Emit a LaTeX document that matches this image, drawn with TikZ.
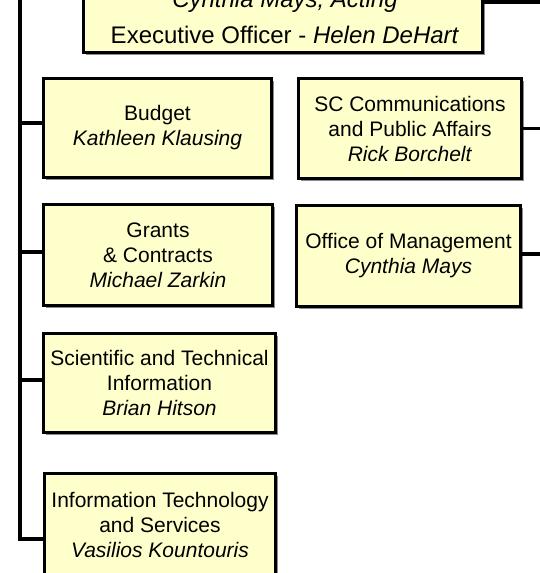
\documentclass[tikz,border=0pt]{standalone}
\usepackage{fontspec}
\setmainfont{Liberation Sans}
\usetikzlibrary{shadows}
\definecolor{boxfill}{RGB}{255,255,204}

\tikzset{
  unitbox/.style={draw, line width=3pt, fill=boxfill, align=center, inner sep=0pt,
    font=\fontsize{21}{25}\selectfont,
    drop shadow={shadow xshift=2pt, shadow yshift=-2pt, fill=black!45, opacity=1}},
  wire/.style={line width=3.2pt}
}

\begin{document}
\begin{tikzpicture}[x=1pt, y=-1pt]
\useasboundingbox (0,0) rectangle (539,573);

\coordinate (spinetop) at (20,-10);
\coordinate (rimright) at (550,0);

% boxes
\node[unitbox, minimum width=399, minimum height=95] (front) at (283,5) {};
\node[anchor=base, font=\fontsize{24}{25}\selectfont] (acting) at (285,7) {\textit{Cynthia Mays, Acting}};
\node[anchor=base, font=\fontsize{24}{25}\selectfont] (exec) at (285,43) {Executive Officer - \textit{Helen DeHart}};

\node[unitbox, minimum width=228, minimum height=99] (budget) at (157.5,128) {Budget\\\textit{Kathleen Klausing}};
\node[unitbox, minimum width=229, minimum height=101] (grants) at (158,255) {Grants\\\& Contracts\\\textit{Michael Zarkin}};
\node[unitbox, minimum width=232, minimum height=99] (sti) at (159.5,383) {Scientific and Technical\\Information\\\textit{Brian Hitson}};
\node[unitbox, minimum width=231, minimum height=102] (its) at (160,524.5) {Information Technology\\and Services\\\textit{Vasilios Kountouris}};

\node[unitbox, minimum width=223, minimum height=100] (comms) at (410,128.5) {SC Communications\\and Public Affairs\\\textit{Rick Borchelt}};
\node[unitbox, minimum width=224, minimum height=101] (mgmt) at (408.5,256) {Office of Management\\\textit{Cynthia Mays}};

% connectors
\foreach \unit/\dy in {budget/5, grants/3, sti/3, its/-14.5}
  \draw[wire] (spinetop) |- ([yshift=\dy pt]\unit.west);

\foreach \unit/\dy in {front/3, comms/0, mgmt/2} {
  \coordinate (\unit-tap) at ([yshift=\dy pt]\unit.east);
  \draw[wire] (\unit-tap) -- (\unit-tap -| rimright);
}
\end{tikzpicture}
\end{document}
